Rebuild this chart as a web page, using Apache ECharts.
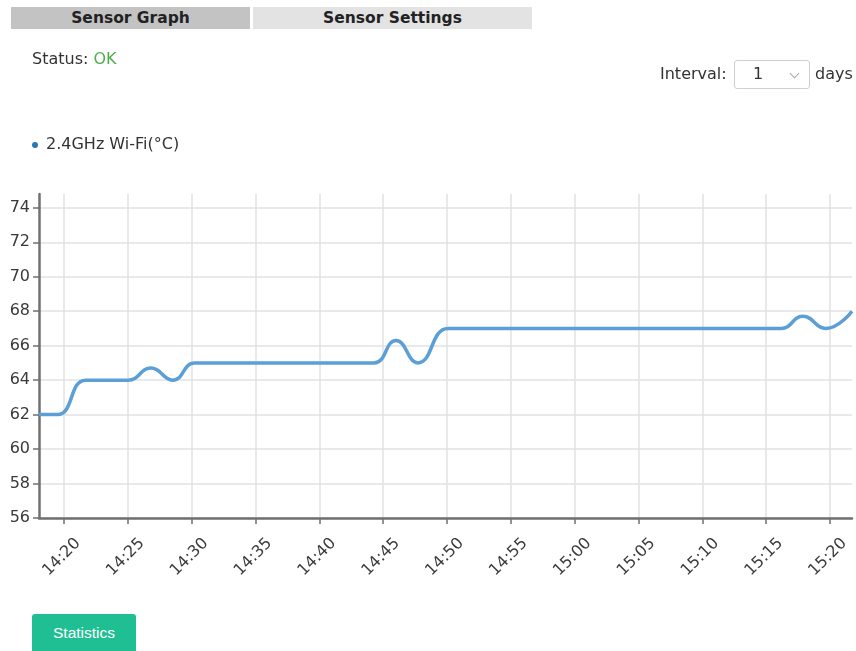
<!DOCTYPE html>
<html>
<head>
<meta charset="utf-8">
<script src="https://cdn.jsdelivr.net/npm/echarts@6/dist/echarts.min.js"></script>
<style>
  html, body { margin: 0; padding: 0; background: #fff; }
  body { width: 856px; height: 651px; position: relative; overflow: hidden;
         font-family: "DejaVu Sans", Verdana, sans-serif; color: #333; }
  #chart { position: absolute; left: 0; top: 0; width: 856px; height: 651px; }
  .tab { position: absolute; top: 7px; height: 22px; line-height: 22px; text-align: center;
         font-weight: bold; font-size: 15.5px; color: #222; }
  #tab1 { left: 11px; width: 239px; background: #c3c3c3; }
  #tab2 { left: 253px; width: 279px; background: #e3e3e3; }
  #status { position: absolute; left: 32px; top: 49px; font-size: 16px; line-height: 20px; color: #333; }
  #status span { color: #4caf50; }
  .lbl { position: absolute; font-size: 16px; line-height: 20px; color: #333; top: 64px; }
  #ivl { left: 660px; }
  #days { left: 815px; }
  #sel { position: absolute; left: 734px; top: 60px; width: 74px; height: 27px; border: 1px solid #cfcfcf;
         border-radius: 3px; }
  #sel .v { position: absolute; left: 18px; top: 3px; font-size: 16px; line-height: 20px; color: #333; }
  #sel .c { position: absolute; left: 56px; top: 9px; width: 6px; height: 6px;
            border-right: 1px solid #aaa; border-bottom: 1px solid #aaa; transform: rotate(45deg); }
  #stats { position: absolute; left: 32px; top: 614px; width: 104px; height: 40px; background: #1fbf93;
           border-radius: 3px; color: #fff; font-family: "Liberation Sans", Arial, sans-serif; font-size: 15.5px;
           text-align: center; line-height: 38px; }
</style>
</head>
<body>
<div id="chart"></div>
<div class="tab" id="tab1">Sensor Graph</div>
<div class="tab" id="tab2">Sensor Settings</div>
<div id="status">Status: <span>OK</span></div>
<div class="lbl" id="ivl">Interval:</div>
<div id="sel"><span class="v">1</span><span class="c"></span></div>
<div class="lbl" id="days">days</div>
<div id="stats">Statistics</div>
<script>
// Temperature readings of the 2.4GHz Wi-Fi sensor
var seriesName = '2.4GHz Wi-Fi(°C)';
var day = '2024-01-01 ';
var sampleTimes = [
  '14:18:03', '14:19:30', '14:21:42', '14:23:17',
  '14:25:01', '14:26:49', '14:28:32', '14:30:15',
  '14:31:59', '14:33:42', '14:35:26', '14:37:09',
  '14:38:52', '14:40:36', '14:42:24', '14:44:17',
  '14:46:00', '14:47:43', '14:50:05', '14:51:50',
  '14:53:30', '14:55:10', '14:56:50', '14:58:30',
  '15:00:10', '15:01:50', '15:03:30', '15:05:10',
  '15:06:50', '15:08:30', '15:10:10', '15:11:50',
  '15:13:30', '15:16:09', '15:17:52', '15:19:40',
  '15:21:43'
];
var temperatures = [
  62, 62, 64, 64,
  64, 64.7, 64, 65,
  65, 65, 65, 65,
  65, 65, 65, 65,
  66.3, 65, 67, 67,
  67, 67, 67, 67,
  67, 67, 67, 67,
  67, 67, 67, 67,
  67, 67, 67.7, 67,
  68
];
var tickLabels = ['14:20', '14:25', '14:30', '14:35', '14:40', '14:45', '14:50',
                  '14:55', '15:00', '15:05', '15:10', '15:15', '15:20'];
var yMin = 56, yMax = 74.8, yStep = 2;

function toMs(hms) { return new Date((day + hms).replace(' ', 'T')).getTime(); }
function pad2(n) { return (n < 10 ? '0' : '') + n; }

var points = sampleTimes.map(function (t, i) { return [toMs(t), temperatures[i]]; });
var tickValues = tickLabels.map(function (l) { return toMs(l + ':00'); });

var chart = echarts.init(document.getElementById('chart'), null, { renderer: 'canvas' });
var axisColor = '#707070';
var fontFamily = 'DejaVu Sans, Verdana, sans-serif';

chart.setOption({
  animation: false,
  legend: {
    left: 27, top: 132,
    icon: 'circle', itemWidth: 6, itemHeight: 6, itemGap: 4,
    textStyle: { color: '#333', fontSize: 16, fontFamily: fontFamily, padding: [0, 0, 0, 3] },
    data: [seriesName]
  },
  grid: { left: 39, right: 4, top: 194, bottom: 133, containLabel: false },
  xAxis: {
    type: 'value',
    min: points[0][0],
    max: points[points.length - 1][0],
    axisLine: { lineStyle: { color: axisColor, width: 2.5 } },
    axisTick: { show: true, length: 6, customValues: tickValues, lineStyle: { color: axisColor, width: 1.5 } },
    axisLabel: {
      customValues: tickValues,
      rotate: 45, margin: 37, align: 'center', verticalAlign: 'middle',
      padding: [0, 6, 6, 0],
      fontSize: 16, color: '#3a3a3a', fontFamily: fontFamily,
      formatter: function (v) {
        var d = new Date(v);
        return pad2(d.getHours()) + ':' + pad2(d.getMinutes());
      }
    },
    splitLine: { show: true, lineStyle: { color: '#e2e2e2', width: 1.5 } }
  },
  yAxis: {
    type: 'value',
    min: yMin, max: yMax, interval: yStep,
    axisLine: { show: true, lineStyle: { color: axisColor, width: 2.5 } },
    axisTick: { show: true, length: 6, lineStyle: { color: axisColor, width: 1.5 } },
    axisLabel: { margin: 9, showMaxLabel: false, fontSize: 16, color: '#3a3a3a', fontFamily: fontFamily },
    splitLine: { show: true, showMaxLine: false, lineStyle: { color: '#e2e2e2', width: 1.5 } }
  },
  series: [{
    name: seriesName,
    type: 'line',
    data: points,
    smooth: 0.5,
    showSymbol: false,
    symbol: 'circle',
    itemStyle: { color: '#2e75b6' },
    lineStyle: { color: '#5b9fd6', width: 3.5 }
  }]
});
</script>
</body>
</html>
